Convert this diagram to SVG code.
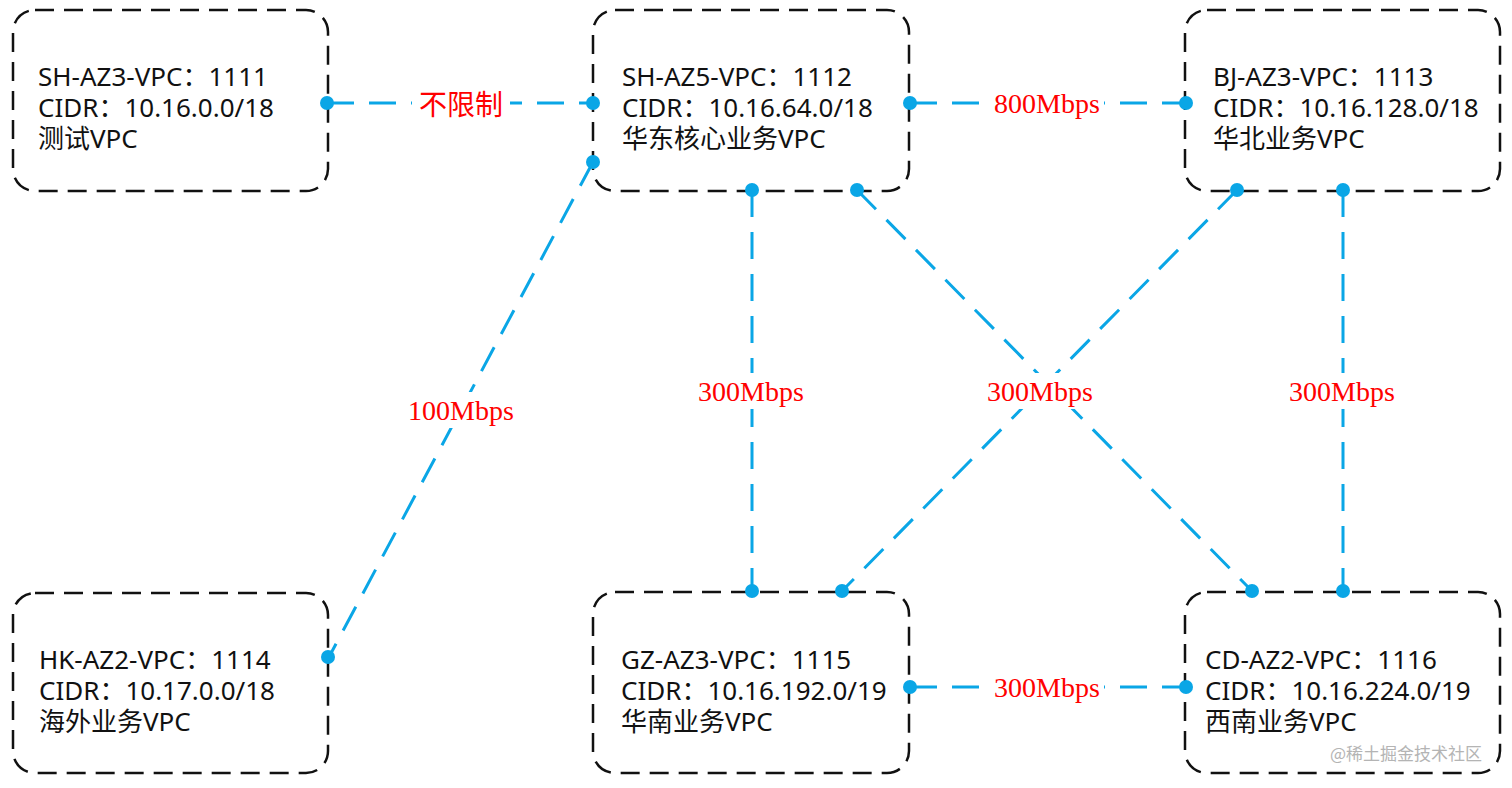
<svg xmlns="http://www.w3.org/2000/svg" width="1512" height="788" viewBox="0 0 1512 788">
<style>
.box{fill:#fff;stroke:#111;stroke-width:2.5;stroke-dasharray:19 10}
.t{font-family:"Noto Sans","Noto Sans CJK SC",sans-serif;font-size:26px;fill:#111}
.ln{stroke:#0aa6e6;stroke-width:3;stroke-dasharray:27 15;fill:none}
.dot{fill:#0aa6e6}
.lb{font-family:"Liberation Serif","Noto Sans CJK SC",serif;font-size:28px;fill:#ff0000;text-anchor:middle;dominant-baseline:central}
.bg{fill:#fff}
.wm{font-family:"Noto Sans CJK SC",sans-serif;font-size:17px;fill:#b4b4b4}
</style>
<rect width="1512" height="788" fill="#fff"/>
<g id="n1111"><rect class="box" x="13" y="10" width="315" height="181" rx="22"/>
<text class="t"><tspan x="38" y="86">SH-AZ3-VPC：1111</tspan><tspan x="38" y="117">CIDR：10.16.0.0/18</tspan><tspan x="38" y="148">测试VPC</tspan></text></g>
<g id="n1112"><rect class="box" x="593" y="10" width="316" height="181" rx="22"/>
<text class="t"><tspan x="622" y="86">SH-AZ5-VPC：1112</tspan><tspan x="622" y="117">CIDR：10.16.64.0/18</tspan><tspan x="622" y="148">华东核心业务VPC</tspan></text></g>
<g id="n1113"><rect class="box" x="1185" y="10" width="315" height="181" rx="22"/>
<text class="t"><tspan x="1213" y="86">BJ-AZ3-VPC：1113</tspan><tspan x="1213" y="117">CIDR：10.16.128.0/18</tspan><tspan x="1213" y="148">华北业务VPC</tspan></text></g>
<g id="n1114"><rect class="box" x="13" y="593" width="315" height="180" rx="22"/>
<text class="t"><tspan x="39" y="669">HK-AZ2-VPC：1114</tspan><tspan x="39" y="700">CIDR：10.17.0.0/18</tspan><tspan x="39" y="731">海外业务VPC</tspan></text></g>
<g id="n1115"><rect class="box" x="593" y="592" width="316" height="181" rx="22"/>
<text class="t"><tspan x="621" y="669">GZ-AZ3-VPC：1115</tspan><tspan x="621" y="700">CIDR：10.16.192.0/19</tspan><tspan x="621" y="731">华南业务VPC</tspan></text></g>
<g id="n1116"><rect class="box" x="1185" y="592" width="315" height="181" rx="22"/>
<text class="t"><tspan x="1205" y="669">CD-AZ2-VPC：1116</tspan><tspan x="1205" y="700">CIDR：10.16.224.0/19</tspan><tspan x="1205" y="731">西南业务VPC</tspan></text></g>
<g id="connectors">
<line class="ln" x1="327" y1="103" x2="593" y2="103"/>
<line class="ln" x1="910" y1="103" x2="1186" y2="103"/>
<line class="ln" x1="593" y1="162" x2="329" y2="657"/>
<line class="ln" x1="752" y1="190" x2="752" y2="591"/>
<line class="ln" x1="857" y1="190" x2="1252" y2="591"/>
<line class="ln" x1="1237" y1="190" x2="842" y2="591"/>
<line class="ln" x1="1343" y1="190" x2="1343" y2="591"/>
<line class="ln" x1="910" y1="687" x2="1186" y2="687"/>
<circle class="dot" cx="327" cy="103" r="7"/><circle class="dot" cx="593" cy="103" r="7"/>
<circle class="dot" cx="910" cy="103" r="7"/><circle class="dot" cx="1186" cy="103" r="7"/>
<circle class="dot" cx="593" cy="162" r="7"/><circle class="dot" cx="328" cy="657" r="7"/>
<circle class="dot" cx="752" cy="190" r="7"/><circle class="dot" cx="752" cy="591" r="7"/>
<circle class="dot" cx="857" cy="190" r="7"/><circle class="dot" cx="1252" cy="591" r="7"/>
<circle class="dot" cx="1237" cy="190" r="7"/><circle class="dot" cx="842" cy="591" r="7"/>
<circle class="dot" cx="1343" cy="190" r="7"/><circle class="dot" cx="1343" cy="591" r="7"/>
<circle class="dot" cx="910" cy="687" r="7"/><circle class="dot" cx="1186" cy="687" r="7"/>
<rect class="bg" x="412" y="85" width="98" height="36"/><text class="lb" x="461" y="103" style="font-family:'Noto Sans CJK SC',serif;font-size:28px">不限制</text>
<rect class="bg" x="990" y="85" width="114" height="36"/><text class="lb" x="1047" y="103">800Mbps</text>
<rect class="bg" x="404" y="392" width="114" height="36"/><text class="lb" x="461" y="410">100Mbps</text>
<rect class="bg" x="694" y="373" width="114" height="36"/><text class="lb" x="751" y="391">300Mbps</text>
<rect class="bg" x="983" y="373" width="114" height="36"/><text class="lb" x="1040" y="391">300Mbps</text>
<rect class="bg" x="1285" y="373" width="114" height="36"/><text class="lb" x="1342" y="391">300Mbps</text>
<rect class="bg" x="990" y="669" width="114" height="36"/><text class="lb" x="1047" y="687">300Mbps</text>
</g>
<text class="wm" x="1330" y="760">@稀土掘金技术社区</text>
</svg>
